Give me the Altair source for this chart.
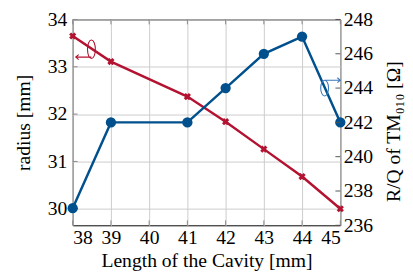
import altair as alt
import pandas as pd

# ---- data ----
length = [38, 39, 41, 42, 43, 44, 45]
radius = [33.65, 33.11, 32.37, 31.84, 31.26, 30.68, 30.0]       # left axis [mm]
rq = [237.0, 242.0, 242.0, 244.0, 246.0, 247.0, 242.0]          # right axis [Ohm]

x_ticks = [38, 39, 40, 41, 42, 43, 44, 45]
left_ticks = [30, 31, 32, 33, 34]
right_ticks = [236, 238, 240, 242, 244, 246, 248]

# annotation anchors (ellipse centres) in data units
ann_red_length, ann_red_radius = [38.49], [33.36]
ann_blue_length, ann_blue_rq = [44.59], [244.0]

RED = "#B31230"
BLUE = "#00508D"
BLUE_LIGHT = "#3A7AB8"
FONT = "Liberation Serif, Times New Roman, serif"
W, H = 273, 210

df = pd.DataFrame({"length": length, "radius": radius, "rq": rq})

xscale = alt.Scale(domain=[38, 45], nice=False, zero=False)
lscale = alt.Scale(domain=[29.65, 34], nice=False, zero=False)
rscale = alt.Scale(domain=[236, 248], nice=False, zero=False)

X = alt.X("length:Q", scale=xscale,
          axis=alt.Axis(values=x_ticks, title="Length of the Cavity [mm]",
                        grid=True, labelPadding=3, titlePadding=3, format="d"))
YL = alt.Y("radius:Q", scale=lscale,
           axis=alt.Axis(values=left_ticks, title="radius [mm]", grid=True,
                         labelPadding=6, titlePadding=14, format="d"))
YR = alt.Y("rq:Q", scale=rscale,
           axis=alt.Axis(values=right_ticks, orient="right",
                         title="R/Q of TM₀₁₀ [Ω]", grid=False, titleAngle=270,
                         titleX=54, titleY=H / 2 + 9, titleBaseline="middle",
                         titleAlign="center",
                         labelPadding=3, format="d"))

# custom symbol paths (ellipse + arrow), units scaled by sqrt(size)/2
ELL_L = ("M0.4,-0.05 A0.4,0.95 0 1,1 -0.4,-0.05 A0.4,0.95 0 1,1 0.4,-0.05 "
         "M0,0.75 L-1.6,0.75 M-1.3,0.5 L-1.6,0.75 L-1.3,1.0")
ELL_R = ("M0.4,0 A0.4,0.8 0 1,1 -0.4,0 A0.4,0.8 0 1,1 0.4,0 "
         "M0,-0.8 L1.6,-0.8 M1.3,-1.05 L1.6,-0.8 L1.3,-0.55")

# ---- left (radius) group ----
red_line = alt.Chart(df).mark_line(
    color=RED, strokeWidth=2.5,
    point=alt.OverlayMarkDef(shape="cross", angle=45, size=55, color=RED, filled=True, opacity=1),
).encode(x=X, y=YL)

red_ann = alt.Chart(pd.DataFrame({"length": ann_red_length, "radius": ann_red_radius})).mark_point(
    shape=ELL_L, size=400, color=RED, strokeWidth=1.1, filled=False, opacity=1
).encode(x=X, y=YL)

xt_df = pd.DataFrame({"length": x_ticks})
xtick_top = alt.Chart(xt_df).mark_rule(color="#888888", strokeWidth=1).encode(
    x=X, y=alt.value(0), y2=alt.value(5))
xtick_bot = alt.Chart(xt_df).mark_rule(color="#888888", strokeWidth=1).encode(
    x=X, y=alt.value(H - 5), y2=alt.value(H))
ltick = alt.Chart(pd.DataFrame({"radius": left_ticks})).mark_rule(color="#888888", strokeWidth=1).encode(
    y=YL, x=alt.value(0), x2=alt.value(5))

left = alt.layer(red_line, xtick_top, xtick_bot, ltick, red_ann)

# ---- right (R/Q) group ----
blue_line = alt.Chart(df).mark_line(
    color=BLUE, strokeWidth=2.5,
    point=alt.OverlayMarkDef(shape="circle", size=110, color=BLUE, filled=True, opacity=1),
).encode(x=X, y=YR)

blue_ann = alt.Chart(pd.DataFrame({"length": ann_blue_length, "rq": ann_blue_rq})).mark_point(
    shape=ELL_R, size=400, color=BLUE_LIGHT, strokeWidth=1.1, filled=False, opacity=1
).encode(x=X, y=YR)

rtick = alt.Chart(pd.DataFrame({"rq": right_ticks})).mark_rule(color="#555555", strokeWidth=1).encode(
    y=YR, x=alt.value(W - 5), x2=alt.value(W))

right = alt.layer(blue_line, rtick, blue_ann)

chart = alt.layer(left, right).resolve_scale(y="independent").properties(
    width=W, height=H,
    autosize=alt.AutoSizeParams(type="none"),
    padding={"left": 66, "top": 9, "right": 66, "bottom": 48},
).configure_view(stroke="black", strokeWidth=1).configure_axis(
    labelFont=FONT, titleFont=FONT, labelFontSize=20, titleFontSize=20,
    titleFontWeight="normal", labelColor="black", titleColor="black",
    gridColor="#cccccc", gridWidth=1, domain=False, ticks=False, tickSize=0,
)

chart.save("out.html", embed_options={"renderer": "svg", "actions": False})
